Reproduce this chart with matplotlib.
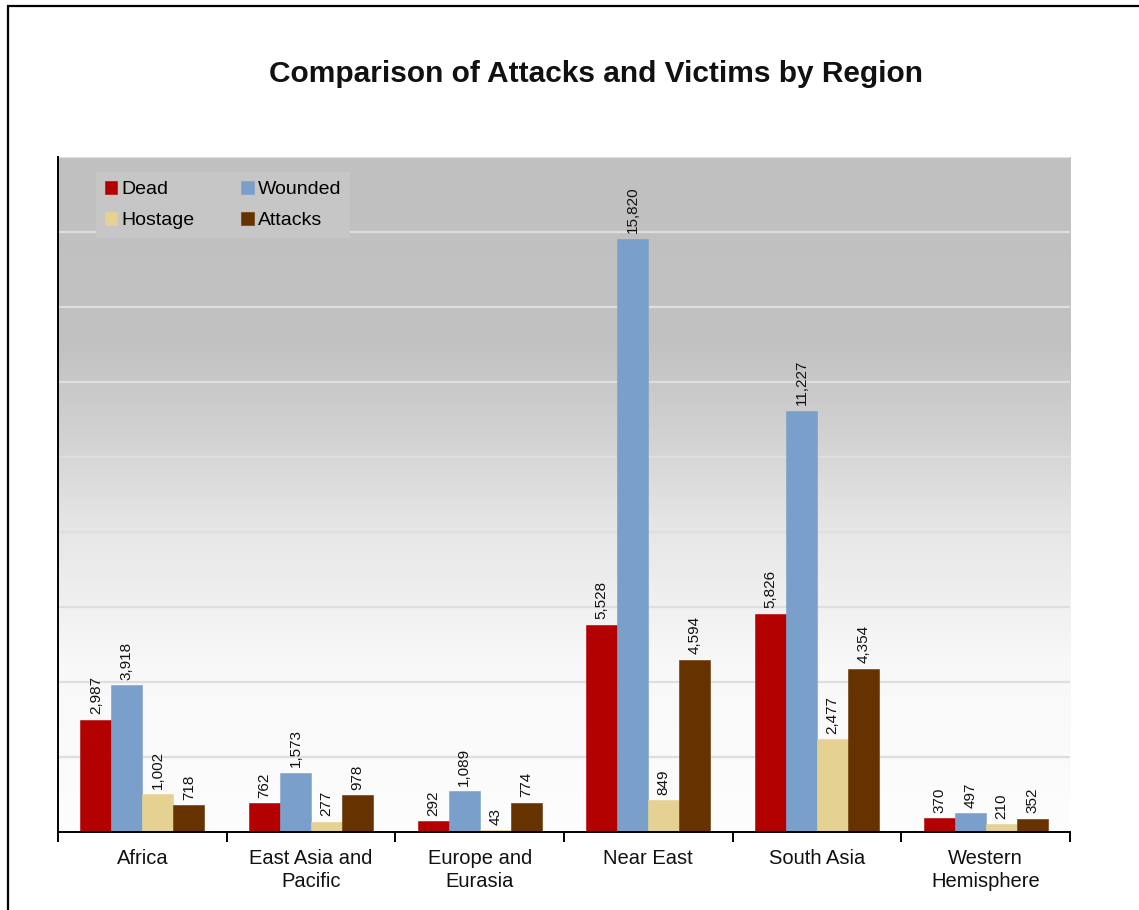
import numpy as np
import matplotlib.pyplot as plt
from matplotlib.colors import LinearSegmentedColormap
from matplotlib.patches import Rectangle

plt.rcParams['font.family'] = ['Liberation Sans', 'DejaVu Sans']

# Data
regions = ["Africa", "East Asia and\nPacific", "Europe and\nEurasia",
           "Near East", "South Asia", "Western\nHemisphere"]
dead = [2987, 762, 292, 5528, 5826, 370]
wounded = [3918, 1573, 1089, 15820, 11227, 497]
hostage = [1002, 277, 43, 849, 2477, 210]
attacks = [718, 978, 774, 4594, 4354, 352]

series = [("Dead", dead, "#b30000"),
          ("Wounded", wounded, "#7a9fca"),
          ("Hostage", hostage, "#e5d293"),
          ("Attacks", attacks, "#663300")]

fig = plt.figure(figsize=(11.39, 9.10), dpi=100)
ax = fig.add_axes([0.0509, 0.0857, 0.8885, 0.7418])

ymax = 18000
ax.set_xlim(-0.5, len(regions) - 0.5)
ax.set_ylim(0, ymax)

# grey-to-white background gradient
bg = LinearSegmentedColormap.from_list(
    "bg", [(0.0, "#fdfdfd"), (0.25, "#f8f8f8"), (0.45, "#e6e6e6"),
           (0.6, "#d0d0d0"), (0.72, "#c2c2c2"), (1.0, "#c0c0c0")])
grad = np.linspace(0, 1, 256).reshape(-1, 1)
ax.imshow(grad, cmap=bg, origin="lower", aspect="auto",
          extent=[-0.5, len(regions) - 0.5, 0, ymax], zorder=0)

# horizontal grid
for g in range(2000, ymax + 1, 2000):
    ax.axhline(g, color="#dedede", lw=1.6, zorder=1)

x = np.arange(len(regions))
w = 0.184
handles = []
for i, (name, vals, col) in enumerate(series):
    pos = x + (i - 1.5) * w
    b = ax.bar(pos, vals, width=w, color=col, edgecolor=col, linewidth=0.4,
               label=name, zorder=2)
    handles.append(b)
    for xp, v in zip(pos, vals):
        ax.annotate(f"{v:,}", (xp, v), xytext=(0, 4), textcoords="offset points",
                    rotation=90, ha="center", va="bottom", fontsize=11,
                    color="#111111", zorder=3)

# axes styling
for s in ["top", "right"]:
    ax.spines[s].set_visible(False)
ax.spines["left"].set_linewidth(1.4)
ax.spines["bottom"].set_linewidth(1.4)
ax.set_yticks([])
ax.set_xticks(np.arange(len(regions) + 1) - 0.5)
ax.set_xticklabels([])
ax.tick_params(axis="x", length=7, width=1.4, direction="out")
for xi, name in zip(x, regions):
    ax.text(xi, -0.025, name, transform=ax.get_xaxis_transform(),
            ha="center", va="top", fontsize=14.5, linespacing=1.3,
            color="#111111")

# legend filled row by row: Dead, Wounded / Hostage, Attacks
order = [0, 2, 1, 3]
leg = ax.legend([handles[k] for k in order], [series[k][0] for k in order],
                loc="upper left", bbox_to_anchor=(0.028, 0.992), ncol=2,
                frameon=True, fontsize=14, handlelength=0.65, handleheight=0.65,
                handletextpad=0.2, columnspacing=2.4, labelspacing=0.72,
                borderpad=0.45, fancybox=False)
leg.get_frame().set_facecolor("#c6c6c6")
leg.get_frame().set_edgecolor("none")
leg.get_frame().set_alpha(1)

fig.text(0.523, 0.919, "Comparison of Attacks and Victims by Region",
         ha="center", va="center", fontsize=21.5, fontweight="bold",
         color="#111111")

# page border
fig.patches.append(Rectangle((8 / 1139, -0.05), 1.2, 1.05 - 6 / 910,
                             transform=fig.transFigure, fill=False,
                             edgecolor="black", linewidth=1.6))

fig.savefig("out.png", dpi=100)
